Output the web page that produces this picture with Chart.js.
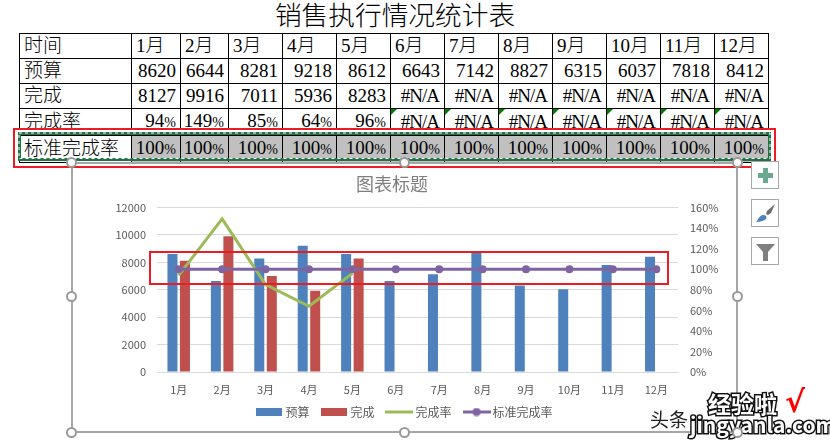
<!DOCTYPE html>
<html lang="zh">
<head>
<meta charset="utf-8">
<title>销售执行情况统计表</title>
<script src="https://cdn.jsdelivr.net/npm/chart.js@4"></script>
<style>
  html, body { margin: 0; padding: 0; background: #fff; }
  body { position: relative; width: 830px; height: 443px; overflow: hidden; }
  .abs { position: absolute; box-sizing: border-box; }
  #heading { left: 0; top: 0; width: 790px; text-align: center; font: 300 26.7px/32px "Liberation Serif", "Noto Sans CJK SC"; color: #000; }
  #sheet { position: absolute; left: 19px; top: 33px; border-collapse: collapse; table-layout: fixed; width: 749px; font: 300 19px/24px "Liberation Serif", "Noto Sans CJK SC"; color: #000; }
  #sheet td { border: 1px solid #000; height: 24px; padding: 0 4px 0 0; white-space: nowrap; overflow: hidden; box-sizing: border-box; text-align: right; }
  #sheet td.txt { text-align: left; padding-left: 4px; }
  #sheet tr.grey td:not(.txt) { background: #c0c0c0; }
  #sheet .pct { font-size: 14px; }
  #sheet .na { letter-spacing: -1px; padding-right: 5px; }
  .flag { width: 0; height: 0; border-top: 6px solid #008000; border-right: 6px solid transparent; }
  #wrap { left: 71px; top: 162px; width: 670px; height: 275px; }
  #frame { left: 71px; top: 162px; width: 667px; height: 271px; border: 2px solid #a6a6a6; }
  .handle { width: 11px; height: 11px; border-radius: 50%; border: 2px solid #999; background: #fff; }
  .btn { left: 751px; width: 28px; height: 28px; border: 1px solid #a6a6a6; background: #fff; }
  .red { border: 2.5px solid #ed1c24; }
  #selection { left: 18px; top: 132px; width: 753px; height: 29px; border: 3px solid #217346; }
  .wm { color: #fff; font-family: "Noto Sans CJK SC", "DejaVu Sans"; font-weight: 700; paint-order: stroke fill; -webkit-text-stroke: 3px #111; white-space: nowrap; }
</style>
</head>
<body>
<div class="abs" id="heading">销售执行情况统计表</div>
<table id="sheet"></table>

<div class="abs" id="frame"></div>
<div class="abs" id="wrap"><canvas id="grafico" width="670" height="275"></canvas></div>

<div class="abs" style="left:19px;top:130px;width:752px;height:3px;background:#fff"></div>
<div class="abs" id="selection"></div>
<svg class="abs" style="left:18px;top:132px" width="753" height="29"><rect x="1" y="1" width="751" height="25.5" fill="none" stroke="#fff" stroke-width="1" stroke-dasharray="3 3"/></svg>
<div class="abs red" style="left:13px;top:128px;width:763px;height:40px"></div>
<div class="abs red" style="left:149px;top:251px;width:520px;height:34px"></div>

<div class="abs btn" style="top:161px"><svg width="26" height="26"><path d="M11 6h5v5h5v5h-5v5h-5v-5H6v-5h5z" fill="#6aa98f"/></svg></div>
<div class="abs btn" style="top:199px"><svg width="26" height="26"><path d="M23 4l-8 7-1 3 2 1 3-2z" fill="#6f6f6f"/><path d="M4 22c2-1 2-6 7-7 3 0 4 2 3 4-2 2-6 3-10 3z" fill="#4f81bd"/></svg></div>
<div class="abs btn" style="top:237px"><svg width="26" height="26"><path d="M4 6h19l-7 8v9h-5v-9z" fill="#7f7f7f"/></svg></div>

<div class="abs" style="left:650px;top:407px;font:19px/24px 'Noto Sans CJK SC';color:#222;text-shadow:-1px 0 #fff,1px 0 #fff,0 -1px #fff,0 1px #fff">头条</div>
<div class="abs wm" style="left:708px;top:389px;font-size:23px;line-height:28px">经验啦</div>
<div class="abs" style="left:785px;top:386px;font:700 30px/32px 'DejaVu Sans';color:#f00">√</div>
<div class="abs wm" style="left:690px;top:411px;font-size:21px;line-height:26px">jingyanla.com</div>

<script>
const meses = ["1月", "2月", "3月", "4月", "5月", "6月", "7月", "8月", "9月", "10月", "11月", "12月"];
const orcamento = [8620, 6644, 8281, 9218, 8612, 6643, 7142, 8827, 6315, 6037, 7818, 8412];
const concluido = [8127, 9916, 7011, 5936, 8283, null, null, null, null, null, null, null];
const taxa = [94, 149, 85, 64, 96, null, null, null, null, null, null, null];
const taxaPadrao = [100, 100, 100, 100, 100, 100, 100, 100, 100, 100, 100, 100];
const colunas = [112, 49, 48, 54, 54, 54, 54, 54, 54, 54, 54, 54, 54];
const handles = [[71, 162], [404, 162], [737, 162], [71, 296], [737, 296], [71, 432], [404, 432], [737, 432]];

const FONTE = '"Noto Sans CJK SC", "Noto Sans", sans-serif';

//! Tabela acima do gráfico
const sheet = document.getElementById("sheet");
const cols = document.createElement("colgroup");
colunas.forEach((w) => {
  const c = document.createElement("col");
  c.style.width = w + "px";
  cols.appendChild(c);
});
sheet.appendChild(cols);

function addRow(label, cells, grey, leftAlign) {
  const tr = document.createElement("tr");
  if (grey) tr.className = "grey";
  const first = document.createElement("td");
  first.className = "txt";
  first.textContent = label;
  tr.appendChild(first);
  cells.forEach((v) => {
    const td = document.createElement("td");
    if (leftAlign) td.className = "txt";
    if (v === null) {
      td.className = "na";
      td.textContent = "#N/A";
    } else if (String(v).endsWith("%")) {
      td.innerHTML = `${parseInt(v)}<span class="pct">%</span>`;
    } else {
      td.textContent = v;
    }
    tr.appendChild(td);
  });
  sheet.appendChild(tr);
}
const pct = (v) => (v === null ? null : v + "%");
addRow("时间", meses, false, true);
addRow("预算", orcamento);
addRow("完成", concluido);
addRow("完成率", taxa.map(pct));
addRow("标准完成率", taxaPadrao.map(pct), true);

// triângulos verdes de erro nas células #N/A
taxa.forEach((v, i) => {
  if (v !== null) return;
  const left = 19 + colunas.slice(0, i + 1).reduce((a, b) => a + b, 0);
  const f = document.createElement("div");
  f.className = "abs flag";
  f.style.left = left + 1 + "px";
  f.style.top = "109px";
  document.body.appendChild(f);
});

handles.forEach(([x, y]) => {
  const h = document.createElement("div");
  h.className = "abs handle";
  h.style.left = x - 5 + "px";
  h.style.top = y - 5 + "px";
  document.body.appendChild(h);
});

//! Amostras da legenda
function swatch(cor, w, h, linha) {
  const c = document.createElement("canvas");
  c.width = w;
  c.height = h;
  const ctx = c.getContext("2d");
  ctx.fillStyle = cor;
  if (linha) {
    ctx.fillRect(0, h / 2 - 1.5, w, 3);
  } else {
    ctx.fillRect(0, 0, w, h);
  }
  if (linha === "ponto") {
    ctx.beginPath();
    ctx.arc(w / 2, h / 2, 4, 0, Math.PI * 2);
    ctx.fill();
  }
  return c;
}
const amostras = [
  swatch("#4f81bd", 26, 8),
  swatch("#c0504d", 26, 8),
  swatch("#9bbb59", 28, 9, "linha"),
  swatch("#8064a2", 28, 9, "ponto"),
];

// Ajusta a posição do título e da legenda depois do layout
const ajuste = {
  id: "ajuste",
  afterLayout(chart) {
    chart.titleBlock.left -= 14;
    chart.titleBlock.right -= 14;
    chart.legend.top -= 9;
    chart.legend.bottom -= 9;
  },
};

//! Gráfico
new Chart(document.getElementById("grafico"), {
  type: "bar",
  data: {
    labels: meses,
    datasets: [
      { label: "预算", data: orcamento, backgroundColor: "#4f81bd", yAxisID: "y", order: 3, categoryPercentage: 0.576, barPercentage: 0.8 },
      { label: "完成", data: concluido, backgroundColor: "#c0504d", yAxisID: "y", order: 4, categoryPercentage: 0.576, barPercentage: 0.8 },
      { type: "line", label: "完成率", data: taxa, borderColor: "#9bbb59", backgroundColor: "#9bbb59", borderWidth: 3, pointRadius: 0, yAxisID: "y1", order: 2, tension: 0 },
      { type: "line", label: "标准完成率", data: taxaPadrao, borderColor: "#8064a2", backgroundColor: "#8064a2", borderWidth: 3, pointRadius: 4, pointBorderWidth: 0, yAxisID: "y1", order: 1, tension: 0 },
    ],
  },
  options: {
    responsive: false,
    animation: false,
    layout: { padding: 0 },
    plugins: {
      tooltip: { enabled: false },
      title: {
        display: true,
        text: "图表标题",
        color: "#7f7f7f",
        font: { family: FONTE, size: 18, weight: "normal" },
        padding: { top: 11, bottom: 13 },
      },
      legend: {
        position: "bottom",
        labels: {
          usePointStyle: true,
          pointStyleWidth: 20,
          padding: 15,
          color: "#595959",
          font: { family: FONTE, size: 12 },
          generateLabels: (chart) =>
            chart.data.datasets.map((d, i) => ({
              text: d.label,
              fontColor: "#595959",
              pointStyle: amostras[i],
              datasetIndex: i,
              lineWidth: 0,
            })),
        },
      },
    },
    scales: {
      x: {
        grid: { display: false },
        border: { color: "#d9d9d9" },
        ticks: { color: "#595959", font: { family: FONTE, size: 11 }, padding: 3, maxRotation: 0, autoSkip: false },
        afterFit: (s) => { s.height = 28; },
      },
      y: {
        position: "left",
        min: 0,
        max: 12000,
        grid: { color: "#d9d9d9", drawTicks: false },
        border: { display: false },
        ticks: { stepSize: 2000, color: "#595959", font: { family: FONTE, size: 11 }, padding: 11, callback: (v) => String(v) },
        afterFit: (s) => { s.width = 86; },
      },
      y1: {
        position: "right",
        min: 0,
        max: 160,
        grid: { display: false, drawTicks: false },
        border: { display: false },
        ticks: { stepSize: 20, color: "#595959", font: { family: FONTE, size: 11 }, padding: 12, callback: (v) => v + "%" },
        afterFit: (s) => { s.width = 63; },
      },
    },
  },
  plugins: [ajuste],
});
</script>
</body>
</html>
